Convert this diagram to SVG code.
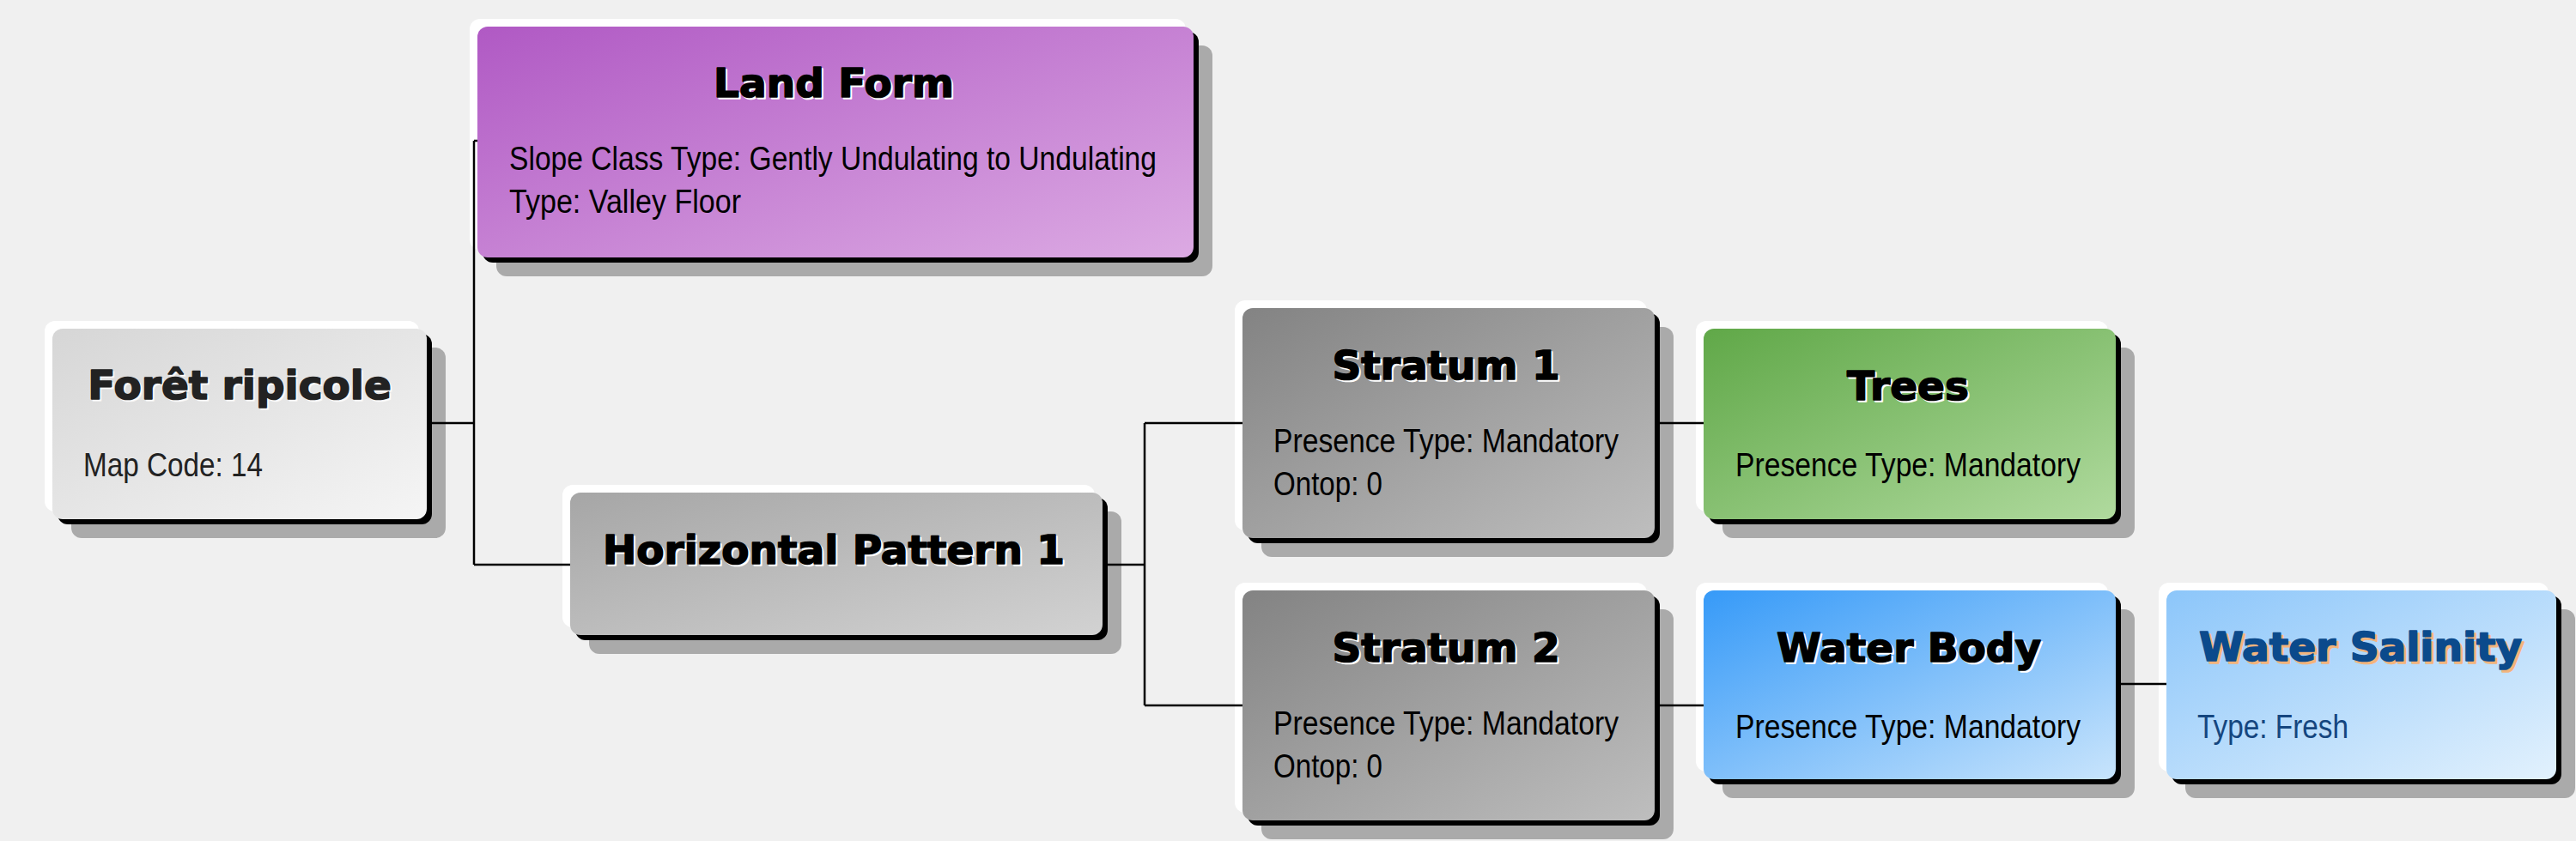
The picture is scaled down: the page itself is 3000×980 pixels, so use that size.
<svg xmlns="http://www.w3.org/2000/svg" width="3000" height="980" viewBox="0 0 3000 980">
<defs>
<linearGradient id="gForet" x1="0" y1="0" x2="1" y2="1"><stop offset="0" stop-color="#d6d6d6"/><stop offset="1" stop-color="#f5f5f5"/></linearGradient>
<linearGradient id="gLand" x1="0" y1="0" x2="1" y2="1"><stop offset="0" stop-color="#b059c4"/><stop offset="1" stop-color="#dcaae3"/></linearGradient>
<linearGradient id="gHP" x1="0" y1="0" x2="1" y2="1"><stop offset="0" stop-color="#a6a6a6"/><stop offset="1" stop-color="#d2d2d2"/></linearGradient>
<linearGradient id="gStr" x1="0" y1="0" x2="1" y2="1"><stop offset="0" stop-color="#838383"/><stop offset="1" stop-color="#bebebe"/></linearGradient>
<linearGradient id="gTrees" x1="0" y1="0" x2="1" y2="1"><stop offset="0" stop-color="#60a848"/><stop offset="1" stop-color="#b0da9e"/></linearGradient>
<linearGradient id="gWB" x1="0" y1="0" x2="1" y2="1"><stop offset="0" stop-color="#369af8"/><stop offset="1" stop-color="#c8e4fc"/></linearGradient>
<linearGradient id="gWS" x1="0" y1="0" x2="1" y2="1"><stop offset="0" stop-color="#8cc6fa"/><stop offset="1" stop-color="#e2f1fd"/></linearGradient>
</defs>
<style>
.shadow{fill:#aaaaaa}
.edge{fill:#000000}
.hi{fill:#ffffff}
.title{font-family:"DejaVu Sans","Liberation Sans",sans-serif;font-weight:bold;font-size:47px;text-anchor:middle;fill:#000000;stroke:#000000;stroke-width:1.6;stroke-linejoin:round}
.tsh{font-family:"DejaVu Sans","Liberation Sans",sans-serif;font-weight:bold;font-size:47px;text-anchor:middle;fill:#ffffff;stroke:#ffffff;stroke-width:1.6;stroke-linejoin:round}
.body{font-family:"Liberation Sans Narrow","Liberation Sans",sans-serif;font-size:39px;fill:#000000}
.conn{stroke:#000000;stroke-width:2.5;fill:none}
</style>
<rect x="0" y="0" width="3000" height="980" fill="#f0f0f0"/>
<g id="foret">
<rect class="shadow" x="83" y="405" width="436" height="222" rx="12"/>
<rect class="edge" x="67" y="389" width="436" height="222" rx="12"/>
<rect class="hi" x="52" y="374" width="436" height="222" rx="12"/>
<rect x="61" y="383" width="436" height="222" rx="12" fill="url(#gForet)"/>
<text class="tsh" x="281" y="467" style="fill-opacity:0.7;stroke-opacity:0.7">Forêt ripicole</text>
<text class="title" x="279" y="465" style="fill:#222222;stroke:#222222">Forêt ripicole</text>
<text class="body" x="97" y="555" textLength="209" lengthAdjust="spacingAndGlyphs" style="fill:#222222">Map Code: 14</text>
</g>
<g id="landform">
<rect class="shadow" x="578" y="53" width="834" height="269" rx="12"/>
<rect class="edge" x="562" y="37" width="834" height="269" rx="12"/>
<rect class="hi" x="547" y="22" width="834" height="269" rx="12"/>
<rect x="556" y="31" width="834" height="269" rx="12" fill="url(#gLand)"/>
<text class="tsh" x="973" y="115">Land Form</text>
<text class="title" x="971" y="113">Land Form</text>
<text class="body" x="593" y="198" textLength="754" lengthAdjust="spacingAndGlyphs">Slope Class Type: Gently Undulating to Undulating</text>
<text class="body" x="593" y="248" textLength="270" lengthAdjust="spacingAndGlyphs">Type: Valley Floor</text>
</g>
<g id="hp1">
<rect class="shadow" x="686" y="596" width="620" height="166" rx="12"/>
<rect class="edge" x="670" y="580" width="620" height="166" rx="12"/>
<rect class="hi" x="655" y="565" width="620" height="166" rx="12"/>
<rect x="664" y="574" width="620" height="166" rx="12" fill="url(#gHP)"/>
<text class="tsh" x="973" y="659">Horizontal Pattern 1</text>
<text class="title" x="971" y="657">Horizontal Pattern 1</text>
</g>
<g id="stratum1">
<rect class="shadow" x="1469" y="381" width="480" height="268" rx="12"/>
<rect class="edge" x="1453" y="365" width="480" height="268" rx="12"/>
<rect class="hi" x="1438" y="350" width="480" height="268" rx="12"/>
<rect x="1447" y="359" width="480" height="268" rx="12" fill="url(#gStr)"/>
<text class="tsh" x="1686" y="444">Stratum 1</text>
<text class="title" x="1684" y="442">Stratum 1</text>
<text class="body" x="1483" y="527" textLength="402" lengthAdjust="spacingAndGlyphs">Presence Type: Mandatory</text>
<text class="body" x="1483" y="577" textLength="127" lengthAdjust="spacingAndGlyphs">Ontop: 0</text>
</g>
<g id="stratum2">
<rect class="shadow" x="1469" y="710" width="480" height="268" rx="12"/>
<rect class="edge" x="1453" y="694" width="480" height="268" rx="12"/>
<rect class="hi" x="1438" y="679" width="480" height="268" rx="12"/>
<rect x="1447" y="688" width="480" height="268" rx="12" fill="url(#gStr)"/>
<text class="tsh" x="1686" y="773">Stratum 2</text>
<text class="title" x="1684" y="771">Stratum 2</text>
<text class="body" x="1483" y="856" textLength="402" lengthAdjust="spacingAndGlyphs">Presence Type: Mandatory</text>
<text class="body" x="1483" y="906" textLength="127" lengthAdjust="spacingAndGlyphs">Ontop: 0</text>
</g>
<g id="trees">
<rect class="shadow" x="2006" y="405" width="480" height="222" rx="12"/>
<rect class="edge" x="1990" y="389" width="480" height="222" rx="12"/>
<rect class="hi" x="1975" y="374" width="480" height="222" rx="12"/>
<rect x="1984" y="383" width="480" height="222" rx="12" fill="url(#gTrees)"/>
<text class="tsh" x="2224" y="468">Trees</text>
<text class="title" x="2222" y="466">Trees</text>
<text class="body" x="2021" y="555" textLength="402" lengthAdjust="spacingAndGlyphs">Presence Type: Mandatory</text>
</g>
<g id="waterbody">
<rect class="shadow" x="2006" y="710" width="480" height="220" rx="12"/>
<rect class="edge" x="1990" y="694" width="480" height="220" rx="12"/>
<rect class="hi" x="1975" y="679" width="480" height="220" rx="12"/>
<rect x="1984" y="688" width="480" height="220" rx="12" fill="url(#gWB)"/>
<text class="tsh" x="2225" y="773">Water Body</text>
<text class="title" x="2223" y="771">Water Body</text>
<text class="body" x="2021" y="860" textLength="402" lengthAdjust="spacingAndGlyphs">Presence Type: Mandatory</text>
</g>
<g id="salinity">
<rect class="shadow" x="2545" y="710" width="454" height="220" rx="12"/>
<rect class="edge" x="2529" y="694" width="454" height="220" rx="12"/>
<rect class="hi" x="2514" y="679" width="454" height="220" rx="12"/>
<rect x="2523" y="688" width="454" height="220" rx="12" fill="url(#gWS)"/>
<text class="tsh" x="2752" y="773" style="fill:#f2b47c;stroke:#f2b47c">Water Salinity</text>
<text class="title" x="2749" y="770" style="fill:#0b4a8c;stroke:#0b4a8c">Water Salinity</text>
<text class="body" x="2559" y="860" textLength="176" lengthAdjust="spacingAndGlyphs" style="fill:#15467f">Type: Fresh</text>
</g>
<g id="connectors" class="conn">
<path d="M503,493 H552"/>
<path d="M552,164 V658"/>
<path d="M552,164 H556"/>
<path d="M552,658 H664"/>
<path d="M1290,658 H1333"/>
<path d="M1333,493 V822"/>
<path d="M1333,493 H1447"/>
<path d="M1333,822 H1447"/>
<path d="M1933,493 H1984"/>
<path d="M1933,822 H1984"/>
<path d="M2470,797 H2523"/>
</g>
</svg>
